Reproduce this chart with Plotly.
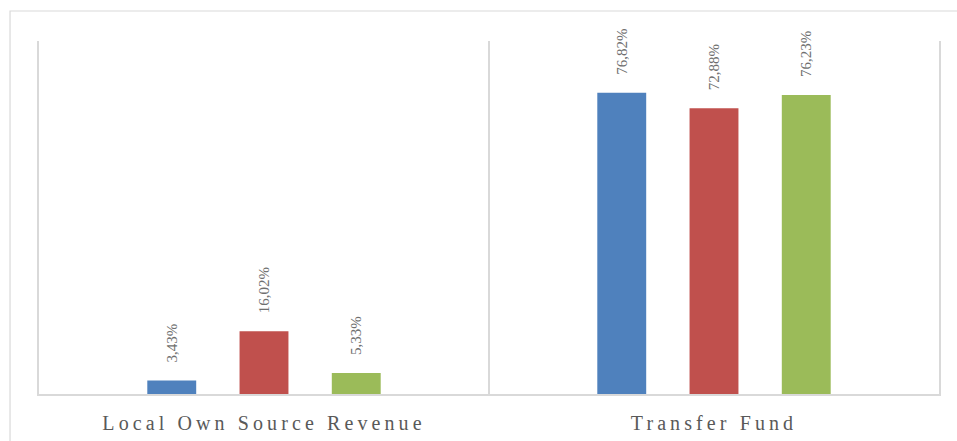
import plotly.graph_objects as go

categories = ["Local Own Source Revenue", "Transfer Fund"]
series_a = [3.43, 76.82]
series_b = [16.02, 72.88]
series_c = [5.33, 76.23]
series_names = ["Series 1", "Series 2", "Series 3"]
colors = ["#4F81BD", "#C0504D", "#9BBB59"]


def fmt(v):
    return f"{v:.2f}".replace(".", ",") + "%"


fig = go.Figure()
for name, vals, col in zip(series_names, [series_a, series_b, series_c], colors):
    fig.add_trace(go.Bar(
        x=categories, y=vals, name=name,
        marker=dict(color=col, line=dict(width=0)),
        text=[fmt(v) for v in vals],
        texttemplate="\u00a0\u00a0\u00a0\u00a0%{text}",
        textposition="outside", textangle=-90,
        constraintext="none", cliponaxis=False,
        textfont=dict(family="Liberation Serif", size=15, color="#6f6f6f"),
    ))

fig.update_layout(
    width=957, height=441,
    margin=dict(l=39, r=18, t=41, b=47),
    paper_bgcolor="white", plot_bgcolor="white",
    barmode="group", bargap=0.385, bargroupgap=0.47,
    showlegend=False,
    font=dict(family="Liberation Serif", color="#595959"),
    xaxis=dict(
        tickson="boundaries", ticks="", showgrid=True, automargin=False,
        gridcolor="#D9D9D9", gridwidth=1.5,
        showline=True, linecolor="#D9D9D9", linewidth=1.5,
        tickfont=dict(family="Liberation Serif", size=20, color="#595959"),
        ticklabelstandoff=10,
    ),
    yaxis=dict(
        range=[0, 90], showticklabels=False, showgrid=False, zeroline=False,
        automargin=False,
        showline=True, linecolor="#D9D9D9", linewidth=1.5, mirror=True,
        ticks="",
    ),
    shapes=[dict(
        type="rect", xref="paper", yref="paper",
        x0=-0.0322, x1=1.03, y0=-0.16, y1=1.085,
        line=dict(color="#D9D9D9", width=1.2), fillcolor="rgba(0,0,0,0)",
        layer="below",
    )],
)

post = ("document.body.style.margin='0';"
        "var s=document.createElement('style');"
        "s.innerHTML='.xtick text{letter-spacing:4.1px}';"
        "document.head.appendChild(s);")
fig.write_html("out.html", post_script=post, config={"displayModeBar": False})
